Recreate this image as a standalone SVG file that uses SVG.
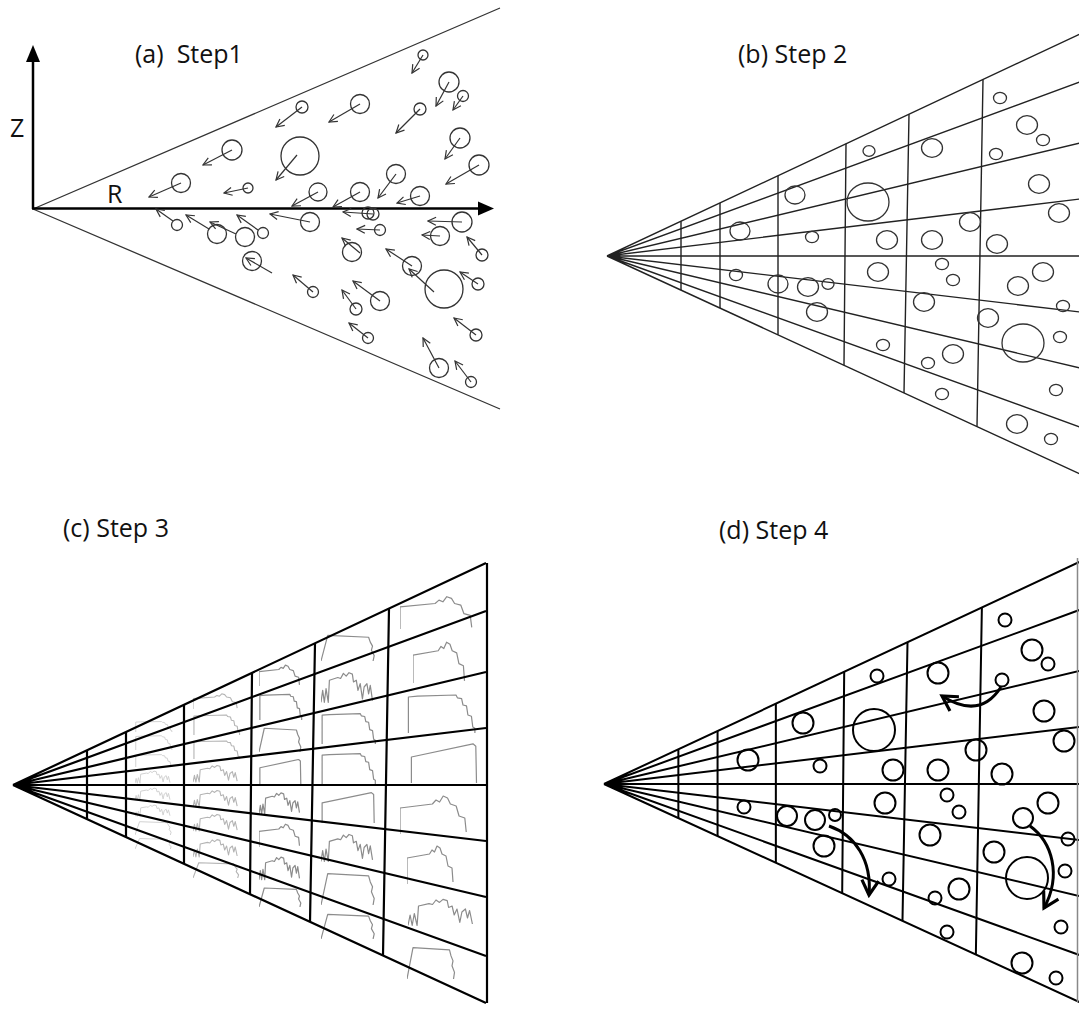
<svg xmlns="http://www.w3.org/2000/svg" xmlns:xlink="http://www.w3.org/1999/xlink" width="1079" height="1012" viewBox="0 0 1079 1012">
<style>
.lbl{font-family:"Open Sans","Liberation Sans",sans-serif;font-size:25px;fill:#111}
.ca{fill:none;stroke:#333;stroke-width:1.3}
.aa{stroke:#333;stroke-width:1.2;marker-end:url(#va)}
.cb{fill:none;stroke:#333;stroke-width:1.3}
.cd{fill:none;stroke:#000;stroke-width:2}
.ch{fill:none;stroke-linejoin:round}
.cv{vector-effect:non-scaling-stroke}
</style>
<defs>
<marker id="va" viewBox="0 0 10 10" refX="9" refY="5" markerWidth="10" markerHeight="10" markerUnits="userSpaceOnUse" orient="auto"><path d="M1,1 L9,5 L1,9" fill="none" stroke="#333" stroke-width="1.2"/></marker>
<marker id="vt" viewBox="0 0 20 20" refX="17" refY="10" markerWidth="21" markerHeight="21" markerUnits="userSpaceOnUse" orient="auto"><path d="M3,2 L17,10 L3,18" fill="none" stroke="#000" stroke-width="3"/></marker>
<g id="grid" fill="none">
<path d="M0,0 L473,-222 M0,0 L473,-174 M0,0 L473,-113 M0,0 L473,-57 M0,0 L473,0 M0,0 L473,56 M0,0 L473,112 M0,0 L473,171 M0,0 L473,218"/>
<path d="M74,-34.7 L74,34.1 M113,-53 L113,52.1 M171,-80.3 L171,78.8 M239,-112.2 L237,109.2 M302,-141.7 L297,136.9 M376,-176.5 L370,170.5"/>
</g>
<symbol id="ta" viewBox="0 0 100 100" preserveAspectRatio="none"><path class="cv" d="M2,100 L2,10 L15,8 L70,5 L72,12 L78,14 L80,30 L85,32 L87,55 L92,58 L94,85 L97,88 L97,100"/></symbol>
<symbol id="tb" viewBox="0 0 100 100" preserveAspectRatio="none"><path class="cv" d="M2,100 L2,35 L90,2 L94,8 L95,100"/></symbol>
<symbol id="tc" viewBox="0 0 100 100" preserveAspectRatio="none"><path class="cv" d="M0,95 L3,60 L6,95 L9,55 L13,95 L15,30 L30,22 L35,25 L40,10 L45,18 L50,8 L56,12 L58,35 L63,30 L66,60 L70,40 L74,85 L77,50 L82,40 L85,70 L88,45 L92,90"/></symbol>
<symbol id="td" viewBox="0 0 100 100" preserveAspectRatio="none"><path class="cv" d="M0,100 L12,5 L85,12 L88,30 L92,45 L90,60 L95,80 L93,100"/></symbol>
<symbol id="te" viewBox="0 0 100 100" preserveAspectRatio="none"><path class="cv" d="M0,100 L0,35 L45,25 L50,15 L55,20 L60,5 L66,10 L70,25 L78,30 L82,55 L90,60 L92,95"/></symbol>
</defs>
<rect width="1079" height="1012" fill="#fff"/>

<!-- Panel a -->
<g id="panel-a">
<text class="lbl" x="135" y="63">(a)&#160; Step1</text>
<text class="lbl" x="10" y="137">Z</text>
<text class="lbl" x="107" y="203">R</text>
<g id="cone-a" fill="none" stroke="#333" stroke-width="1.3"><path d="M33,209 L500,8 M33,209 L500,409"/></g>
<g id="axes-a">
<line x1="33" y1="209" x2="33" y2="60" stroke="#000" stroke-width="2.5"/>
<polygon points="26,62 40,62 33,45" fill="#000"/>
<line x1="32" y1="208.5" x2="480" y2="208.5" stroke="#000" stroke-width="2.5"/>
<polygon points="478,201.5 478,215.5 494,208.5" fill="#000"/>
</g>
<g id="particles-a" class="ca">
<circle cx="232" cy="150" r="10"/><circle cx="181" cy="183" r="9.5"/><circle cx="248" cy="188" r="5"/>
<circle cx="177" cy="225" r="5.5"/><circle cx="217" cy="234" r="9.5"/><circle cx="245" cy="237" r="9.5"/>
<circle cx="263" cy="233" r="5.5"/><circle cx="252" cy="261" r="9.5"/><circle cx="423" cy="55" r="5"/>
<circle cx="449" cy="82" r="10"/><circle cx="463" cy="96" r="5.5"/><circle cx="302" cy="107" r="6"/>
<circle cx="360" cy="104" r="9.5"/><circle cx="420" cy="109" r="6"/><circle cx="300" cy="156" r="19"/>
<circle cx="460" cy="138" r="10"/><circle cx="479" cy="165" r="10"/><circle cx="396" cy="174" r="9.5"/>
<circle cx="318" cy="192" r="9"/><circle cx="360" cy="192" r="9.5"/><circle cx="420" cy="196" r="9.5"/>
<circle cx="310" cy="222" r="9.5"/><circle cx="368" cy="213" r="6"/><circle cx="373" cy="214" r="6"/>
<circle cx="380" cy="230" r="5.5"/><circle cx="352" cy="252" r="9.5"/><circle cx="462" cy="222" r="10"/>
<circle cx="440" cy="236" r="9.5"/><circle cx="482" cy="255" r="6"/><circle cx="412" cy="266" r="9.5"/>
<circle cx="444" cy="289" r="19"/><circle cx="313" cy="292" r="5.5"/><circle cx="380" cy="301" r="9.5"/>
<circle cx="356" cy="309" r="6"/><circle cx="478" cy="284" r="6"/><circle cx="368" cy="338" r="5.5"/>
<circle cx="476" cy="335" r="6"/><circle cx="439" cy="368" r="9.5"/><circle cx="471" cy="382" r="5.5"/>
</g>
</g>

<!-- Panel b -->
<g id="panel-b">
<text class="lbl" x="738" y="63">(b) Step 2</text>
<use href="#grid" xlink:href="#grid" transform="translate(607,256)" stroke="#222" stroke-width="1.4"/>
<g id="particles-b" class="cb">
<ellipse cx="795" cy="195" rx="10" ry="9"/><ellipse cx="740" cy="231" rx="10" ry="9"/><ellipse cx="812" cy="237" rx="6.5" ry="5.7"/>
<ellipse cx="736" cy="275" rx="6.5" ry="5.7"/><ellipse cx="778" cy="284" rx="10" ry="9"/><ellipse cx="808" cy="287" rx="10.5" ry="9.3"/>
<ellipse cx="828" cy="284" rx="6" ry="5.3"/><ellipse cx="817" cy="312" rx="10.5" ry="9.3"/>
<ellipse cx="1000" cy="98" rx="6.5" ry="5.7"/><ellipse cx="1027" cy="125" rx="10.5" ry="9.3"/><ellipse cx="1043" cy="140" rx="6.5" ry="5.7"/>
<ellipse cx="869" cy="151" rx="6" ry="5.3"/><ellipse cx="932" cy="148" rx="10.5" ry="9.3"/><ellipse cx="996" cy="154" rx="6.5" ry="5.7"/>
<ellipse cx="868" cy="202" rx="21" ry="19"/><ellipse cx="1039" cy="184" rx="10.5" ry="9.3"/><ellipse cx="1059" cy="213" rx="10.5" ry="9.3"/>
<ellipse cx="970" cy="222" rx="10.5" ry="9.3"/><ellipse cx="887" cy="240" rx="10.5" ry="9.3"/><ellipse cx="932" cy="240" rx="10.5" ry="9.3"/>
<ellipse cx="997" cy="244" rx="10.5" ry="9.3"/><ellipse cx="878" cy="272" rx="10.5" ry="9.3"/><ellipse cx="942" cy="264" rx="6.5" ry="5.7"/>
<ellipse cx="953" cy="280" rx="6.5" ry="5.7"/><ellipse cx="1043" cy="272" rx="10.5" ry="9.3"/><ellipse cx="1018" cy="286" rx="10.5" ry="9.3"/>
<ellipse cx="1063" cy="306" rx="6.5" ry="5.7"/><ellipse cx="924" cy="302" rx="10.5" ry="9.3"/><ellipse cx="988" cy="318" rx="10.5" ry="9.3"/>
<ellipse cx="1023" cy="343" rx="21" ry="19"/><ellipse cx="1060" cy="337" rx="6.5" ry="5.7"/><ellipse cx="883" cy="345" rx="6.5" ry="5.7"/>
<ellipse cx="953" cy="354" rx="10.5" ry="9.3"/><ellipse cx="928" cy="363" rx="6.5" ry="5.7"/><ellipse cx="1056" cy="390" rx="6.5" ry="5.7"/>
<ellipse cx="942" cy="394" rx="6.5" ry="5.7"/><ellipse cx="1017" cy="424" rx="10.5" ry="9.3"/><ellipse cx="1051" cy="439" rx="6.5" ry="5.7"/>
</g>
</g>

<!-- Panel c -->
<g id="panel-c">
<text class="lbl" x="63" y="537">(c) Step 3</text>
<g transform="translate(13,785)">
<g id="charts-c3" class="ch" stroke="#d2d2d2" stroke-width="1">
<use href="#ta" xlink:href="#ta" x="122" y="-64" width="38" height="11"/>
<use href="#ta" xlink:href="#ta" x="122" y="-50" width="38" height="15"/>
<use href="#ta" xlink:href="#ta" x="122" y="-31" width="38" height="13"/>
<use href="#tc" xlink:href="#tc" x="122" y="-15" width="38" height="14"/>
<use href="#tc" xlink:href="#tc" x="122" y="2" width="38" height="14"/>
<use href="#tc" xlink:href="#tc" x="122" y="19" width="38" height="13"/>
<use href="#td" xlink:href="#td" x="122" y="36" width="38" height="14"/>
<use href="#td" xlink:href="#td" x="122" y="53" width="38" height="11"/>
</g>
<g id="charts-c4" class="ch" stroke="#b4b4b4" stroke-width="1.1">
<use href="#te" xlink:href="#te" x="180" y="-92" width="48" height="16"/>
<use href="#ta" xlink:href="#ta" x="180" y="-71" width="48" height="21"/>
<use href="#ta" xlink:href="#ta" x="180" y="-45" width="48" height="19"/>
<use href="#tc" xlink:href="#tc" x="180" y="-21" width="48" height="19"/>
<use href="#tc" xlink:href="#tc" x="180" y="4" width="48" height="19"/>
<use href="#tc" xlink:href="#tc" x="180" y="28" width="48" height="19"/>
<use href="#tc" xlink:href="#tc" x="180" y="53" width="48" height="20"/>
<use href="#td" xlink:href="#td" x="180" y="77" width="48" height="16"/>
</g>
<g id="charts-c5" class="ch" stroke="#8c8c8c" stroke-width="1.2">
<use href="#te" xlink:href="#te" x="246" y="-121" width="44" height="22"/>
<use href="#ta" xlink:href="#ta" x="246" y="-92" width="44" height="27"/>
<use href="#td" xlink:href="#td" x="246" y="-58" width="44" height="25"/>
<use href="#tb" xlink:href="#tb" x="246" y="-26" width="44" height="25"/>
<use href="#tc" xlink:href="#tc" x="246" y="6" width="44" height="24"/>
<use href="#te" xlink:href="#te" x="246" y="38" width="44" height="24"/>
<use href="#tc" xlink:href="#tc" x="246" y="70" width="44" height="26"/>
<use href="#td" xlink:href="#td" x="246" y="102" width="44" height="20"/>
</g>
<g id="charts-c6" class="ch" stroke="#8c8c8c" stroke-width="1.2">
<use href="#td" xlink:href="#td" x="308" y="-151" width="56" height="27"/>
<use href="#tc" xlink:href="#tc" x="308" y="-115" width="56" height="34"/>
<use href="#ta" xlink:href="#ta" x="308" y="-73" width="56" height="32"/>
<use href="#ta" xlink:href="#ta" x="308" y="-33" width="56" height="32"/>
<use href="#tb" xlink:href="#tb" x="308" y="7" width="56" height="31"/>
<use href="#tc" xlink:href="#tc" x="308" y="47" width="56" height="31"/>
<use href="#td" xlink:href="#td" x="308" y="87" width="56" height="33"/>
<use href="#td" xlink:href="#td" x="308" y="128" width="56" height="26"/>
</g>
<g id="charts-c7" class="ch" stroke="#8c8c8c" stroke-width="1.2">
<use href="#te" xlink:href="#te" x="387" y="-190" width="78" height="34"/>
<use href="#te" xlink:href="#te" x="400" y="-145" width="56" height="43"/>
<use href="#ta" xlink:href="#ta" x="394" y="-92" width="70" height="40"/>
<use href="#tb" xlink:href="#tb" x="397" y="-42" width="70" height="40"/>
<use href="#te" xlink:href="#te" x="387" y="9" width="72" height="40"/>
<use href="#te" xlink:href="#te" x="394" y="59" width="50" height="40"/>
<use href="#tc" xlink:href="#tc" x="395" y="112" width="70" height="30"/>
<use href="#td" xlink:href="#td" x="394" y="161" width="50" height="33"/>
</g>
<use href="#grid" xlink:href="#grid" stroke="#000" stroke-width="2.2"/>
<line x1="474" y1="-222" x2="474" y2="218" stroke="#000" stroke-width="2.2"/>
</g>
</g>

<!-- Panel d -->
<g id="panel-d">
<text class="lbl" x="719" y="539">(d) Step 4</text>
<use href="#grid" xlink:href="#grid" transform="translate(604,784) scale(1.005,1)" stroke="#000" stroke-width="2"/>
<line x1="1077.5" y1="558" x2="1077.5" y2="1002" stroke="#888" stroke-width="1.5"/>
<g id="particles-d" class="cd">
<circle cx="803" cy="723" r="10.5"/><circle cx="748" cy="760" r="10.5"/><circle cx="820" cy="766" r="6.5"/>
<circle cx="744" cy="807" r="6.5"/><circle cx="787" cy="816" r="10"/><circle cx="815" cy="820" r="10"/>
<circle cx="835" cy="815" r="6"/><circle cx="824" cy="846" r="10.5"/>
<circle cx="1005" cy="620" r="6.5"/><circle cx="1032" cy="650" r="10.5"/><circle cx="1048" cy="664" r="6.5"/>
<circle cx="877" cy="676" r="6.5"/><circle cx="938" cy="673" r="10.5"/><circle cx="1002" cy="680" r="6.5"/>
<circle cx="874" cy="730" r="21"/><circle cx="1044" cy="711" r="10.5"/><circle cx="1064" cy="741" r="10.5"/>
<circle cx="976" cy="750" r="10.5"/><circle cx="893" cy="770" r="10.5"/><circle cx="938" cy="770" r="10.5"/>
<circle cx="1002" cy="774" r="10.5"/><circle cx="885" cy="803" r="10.5"/><circle cx="947" cy="795" r="6.5"/>
<circle cx="959" cy="812" r="6.5"/><circle cx="1048" cy="803" r="10.5"/><circle cx="1023" cy="818" r="10"/>
<circle cx="1068" cy="839" r="6.5"/><circle cx="930" cy="835" r="10.5"/><circle cx="994" cy="852" r="10.5"/>
<circle cx="1027" cy="878" r="21"/><circle cx="1065" cy="871" r="6.5"/><circle cx="889" cy="879" r="6.5"/>
<circle cx="959" cy="889" r="10.5"/><circle cx="935" cy="898" r="6.5"/><circle cx="1061" cy="927" r="6.5"/>
<circle cx="947" cy="932" r="6.5"/><circle cx="1022" cy="963" r="10.5"/><circle cx="1056" cy="978" r="6.5"/>
</g>
</g>

<!-- Connectors -->
<g id="connectors">
<g id="arrows-a">
<line class="aa" x1="232" y1="150" x2="203" y2="165"/>
<line class="aa" x1="181" y1="183" x2="149" y2="197"/>
<line class="aa" x1="248" y1="188" x2="224" y2="193"/>
<line class="aa" x1="173" y1="221" x2="156" y2="209"/>
<line class="aa" x1="209" y1="229" x2="186" y2="215"/>
<line class="aa" x1="236" y1="234" x2="210" y2="222"/>
<line class="aa" x1="258" y1="230" x2="237" y2="215"/>
<line class="aa" x1="272" y1="273" x2="246" y2="258"/>
<line class="aa" x1="423" y1="55" x2="412" y2="73"/>
<line class="aa" x1="449" y1="82" x2="436" y2="106"/>
<line class="aa" x1="463" y1="96" x2="453" y2="110"/>
<line class="aa" x1="302" y1="107" x2="276" y2="127"/>
<line class="aa" x1="360" y1="104" x2="329" y2="122"/>
<line class="aa" x1="420" y1="109" x2="396" y2="133"/>
<line class="aa" x1="297" y1="155" x2="276" y2="180"/>
<line class="aa" x1="460" y1="138" x2="445" y2="159"/>
<line class="aa" x1="479" y1="165" x2="446" y2="184"/>
<line class="aa" x1="396" y1="174" x2="378" y2="198"/>
<line class="aa" x1="318" y1="192" x2="292" y2="206"/>
<line class="aa" x1="360" y1="192" x2="333" y2="207"/>
<line class="aa" x1="420" y1="196" x2="397" y2="203"/>
<line class="aa" x1="310" y1="222" x2="270" y2="214"/>
<line class="aa" x1="373" y1="214" x2="343" y2="212"/>
<line class="aa" x1="380" y1="230" x2="357" y2="229"/>
<line class="aa" x1="360" y1="253" x2="342" y2="238"/>
<line class="aa" x1="462" y1="222" x2="428" y2="221"/>
<line class="aa" x1="440" y1="236" x2="422" y2="235"/>
<line class="aa" x1="482" y1="255" x2="467" y2="237"/>
<line class="aa" x1="412" y1="266" x2="386" y2="249"/>
<line class="aa" x1="434" y1="292" x2="409" y2="269"/>
<line class="aa" x1="313" y1="292" x2="293" y2="275"/>
<line class="aa" x1="380" y1="301" x2="353" y2="281"/>
<line class="aa" x1="356" y1="309" x2="342" y2="290"/>
<line class="aa" x1="478" y1="284" x2="460" y2="272"/>
<line class="aa" x1="368" y1="338" x2="349" y2="323"/>
<line class="aa" x1="476" y1="335" x2="454" y2="318"/>
<line class="aa" x1="439" y1="368" x2="423" y2="338"/>
<line class="aa" x1="471" y1="382" x2="455" y2="361"/>
</g>
<g id="arrows-d" fill="none" stroke="#000" stroke-width="3" marker-end="url(#vt)">
<path d="M1001,687 Q980,720 942,696"/>
<path d="M829,826 C855,835 872,860 869,895"/>
<path d="M1030,826 C1052,842 1062,875 1044,908"/>
</g>
</g>
</svg>
